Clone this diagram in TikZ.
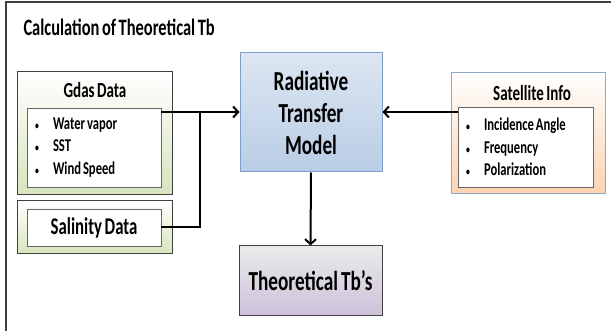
\documentclass[tikz,border=0pt]{standalone}
\usepackage{fontspec}
\setmainfont{Carlito}[FakeStretch=0.7, WordSpace=0.7]
\usepackage{tikz}
\usetikzlibrary{arrows.meta}

\definecolor{frameline}{HTML}{404040}
\definecolor{greenbot}{HTML}{D7E4BD}
\definecolor{bluetop}{HTML}{DCE6F2}
\definecolor{bluebot}{HTML}{B9CDE5}
\definecolor{blueline}{HTML}{7F9FC8}
\definecolor{peachbot}{HTML}{FAC090}
\definecolor{lilacbot}{HTML}{CCC1DA}

\newcommand{\bul}{\makebox[18pt][l]{\fontsize{11}{11}\selectfont\textbullet}}

\tikzset{
  box/.style={draw=frameline, line width=1pt, inner sep=0pt},
  inbox/.style={draw=frameline!80, line width=0.8pt, fill=white, inner sep=0pt},
  link/.style={line width=2pt, -{Straight Barb[length=5pt,width=11pt,line width=2pt]}}
}

\begin{document}
\begin{tikzpicture}[x=1pt,y=-1pt,font=\bfseries]
  \useasboundingbox (0,0) rectangle (611,331);
  \fill[white] (0,0) rectangle (611,331);
  % frame
  \draw[frameline, line width=1.5pt] (6,340) -- (6,2) -- (620,2);

  \node[anchor=west, font=\bfseries\fontsize{23.5}{26}\selectfont] (title) at (20,27) {Calculation of Theoretical Tb};

  % gdas
  \node[box, top color=white, bottom color=greenbot, minimum width=155pt, minimum height=123pt] (gdas) at (94.5,133.5) {};
  \node[font=\bfseries\fontsize{21.5}{24}\selectfont] (gdastxt) at (95,90) {Gdas Data};
  \node[inbox, minimum width=134pt, minimum height=79pt, text width=118pt, align=flush left, inner xsep=8pt,
        font=\bfseries\fontsize{18}{22.5}\selectfont] (gdasin) at (94,147.5)
        {\bul Water vapor\\ \bul SST\\ \bul Wind Speed};

  % salinity
  \node[box, top color=white, bottom color=greenbot, minimum width=155pt, minimum height=53pt] (sal) at (94.5,227.5) {};
  \node[inbox, minimum width=134pt, minimum height=37pt, font=\bfseries\fontsize{24}{26}\selectfont] (salin) at (94,227.5) {Salinity Data};

  % model
  \node[draw=blueline, line width=1pt, top color=bluetop, bottom color=bluebot, minimum width=142pt, minimum height=119pt,
        align=center, font=\bfseries\fontsize{27.5}{32}\selectfont] (rtm) at (311,112.5) {Radiative\\Transfer\\Model};

  % satellite
  \node[draw=blueline!90, line width=1pt, top color=white, bottom color=peachbot!70, minimum width=154pt, minimum height=121pt] (sat) at (528,133.5) {};
  \node[font=\bfseries\fontsize{21.5}{24}\selectfont] (sattxt) at (532,93) {Satellite Info};
  \node[inbox, minimum width=135pt, minimum height=80pt, text width=119pt, align=flush left, inner xsep=8pt,
        font=\bfseries\fontsize{18}{22.5}\selectfont] (satin) at (525.5,147)
        {\bul Incidence Angle\\ \bul Frequency\\ \bul Polarization};

  % output
  \node[box, top color=black!8, bottom color=lilacbot, minimum width=143pt, minimum height=70pt,
        font=\bfseries\fontsize{27.5}{30}\selectfont] (theo) at (310.5,281) {Theoretical Tb's};

  % connectors
  \coordinate (j) at (200,112);
  \draw[link] (gdasin.east |- j) -- (rtm.west |- j);
  \draw[line width=2pt] (salin.east) -| (j);
  \draw[link] (satin.west |- j) -- (rtm.east |- j);
  \draw[link] (rtm.south) -- (theo.north);
\end{tikzpicture}
\end{document}
